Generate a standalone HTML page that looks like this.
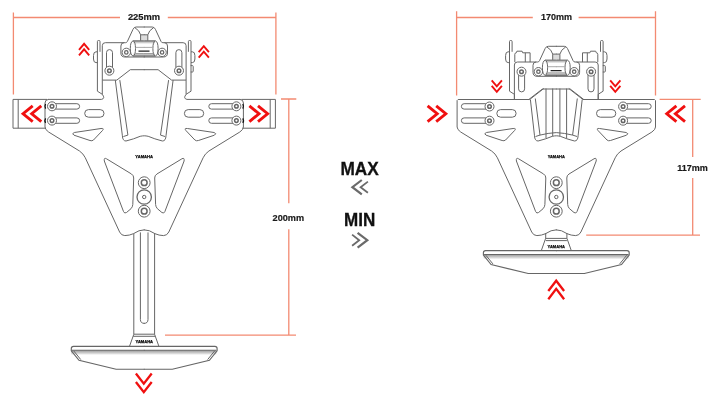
<!DOCTYPE html>
<html><head><meta charset="utf-8">
<style>
html,body{margin:0;padding:0;background:#fff;width:720px;height:405px;overflow:hidden}
svg{position:absolute;left:0;top:0;display:block;will-change:transform}
text{font-family:"Liberation Sans",sans-serif;font-weight:bold}
</style></head><body>
<svg width="720" height="405" viewBox="0 0 720 405">
<defs>
<linearGradient id="band" x1="0" y1="0" x2="0" y2="1">
<stop offset="0" stop-color="#9a9a9a"/><stop offset="1" stop-color="#f2f2f2"/>
</linearGradient>
<linearGradient id="cylT" x1="0" y1="0" x2="0" y2="1"><stop offset="0" stop-color="#999"/><stop offset="1" stop-color="#fff"/></linearGradient>
<linearGradient id="cylB" x1="0" y1="0" x2="0" y2="1"><stop offset="0" stop-color="#fff"/><stop offset="1" stop-color="#999"/></linearGradient>
<!-- shared body half (cx=144.2) -->
<g id="bodyHalf">
 <path d="M45,127 Q45,129.5 48.6,132 L79.5,151 Q83.5,153.8 85.3,157.8 L119.6,232 Q121.3,235.6 124.8,235.6 Q129.5,235.5 133.4,233.7 Q139,229.8 144.6,229.8"/>
 <rect x="84.7" y="109.6" width="19.3" height="7.6" rx="3.8"/>
 <path d="M74.3,132.5 L101,128.5 Q104.5,128 102.5,130.5 L93.5,140 Q92,141.3 90,140.5 L74,135.2 Q71.2,133.6 74.3,132.5Z"/>
 <path d="M106.5,158.8 L131.5,174 Q133.8,175.5 133.7,178 L132.8,204.5 Q132.6,207 131,208.7 L126.5,212.5 Q124.5,214 123.5,211.5 L104.3,161 Q103.8,157.2 106.5,158.8Z"/>
 <rect x="49.3" y="103.7" width="30.3" height="5.4" rx="2.7"/>
 <rect x="49.3" y="117.9" width="30.3" height="5.4" rx="2.7"/>
 <!-- tab + knob -->
 <path d="M97.4,91.2 V41.5 Q97.4,40.5 98.4,40.5 H99 Q100,40.5 100,41.5 V51.8"/>
 <path d="M97.4,91.2 L102.3,94.3"/>
 <path d="M97.4,51.8 H96 Q93.5,51.8 93.5,55.5 V59 Q93.5,62.6 96,62.6 H97.4"/>
</g>
<!-- upper plate half -->
<g id="plateHalf">
 <path d="M102.3,80.1 V45.7 Q102.3,42.7 105.3,42.7 H125.5 Q126.8,42.7 127.4,41.4 L133,29.3 Q134,27 136.2,27 H144.6"/>
 <path d="M124,42.7 Q120.9,42.7 120.9,46 V53 Q120.9,57 125,57 H144.6"/>
 <path d="M116.8,80.1 L130.3,69.7 H144.6"/>
 <rect x="106.5" y="49.6" width="6" height="23" rx="3"/>
 <circle cx="126.3" cy="52.4" r="4.2" fill="#fff"/>
 <circle cx="126.3" cy="52.4" r="1.7" stroke-width="1.3"/>
 <rect x="133.5" y="41" width="11.1" height="3" fill="url(#cylT)" stroke="none"/>
 <rect x="133.5" y="52.8" width="11.1" height="3" fill="url(#cylB)" stroke="none"/>
 <rect x="140.6" y="35" width="4" height="5.6" fill="#dcdcdc" stroke="none"/>
 <path d="M144.2,40.8 H133.2 Q130.3,41.5 130.3,48.5 Q130.3,55.5 133.2,56.1 H144.6"/>
 <path d="M133.2,40.8 Q135.5,42 135.5,48.5 Q135.5,55 133.2,56.1"/>
 <path d="M135.5,47.4 H144.6" stroke="#aaa"/><path d="M135.3,53.6 H144.6" stroke="#999"/>
 <path d="M134.8,27.6 Q139.6,30.5 140.6,34.8 V40.6 M140.6,34.8 H144.6"/>
</g>
<g id="holeS">
 <circle cx="0" cy="0" r="4.5" fill="#fff"/>
 <circle cx="0" cy="0" r="1.8" stroke-width="1.5"/>
</g>
<!-- base half -->
<g id="baseHalf">
 <path d="M144.6,346.3 H73.5 Q71.3,346.3 71.3,348.5 V350.8 L79,360.3 L116.1,369.2 H144.6" stroke-width="1.15"/>
 <path d="M73.8,351 L80.8,359.6"/>
 <path d="M72,350.2 H144.6" stroke-width="1.1"/>
</g>
<!-- left bracket half -->
<g id="leftHalf">
 <use href="#bodyHalf"/>
 <use href="#plateHalf"/>
 <path d="M47,99.4 H13 V128.2 H46 M48.5,99.4 Q45,99.6 45,103 V127"/>
 <path d="M18.2,99.5 V128.2"/>
 <path d="M48,99.4 H101.5 Q105.5,98.5 102.3,94.3 V80.1 H116.8"/>
  <path d="M115.3,80.1 L122.4,135.8 Q122.6,141 126,141 Q134,139 140.2,136.3 Q142.5,135.8 144.2,135.8"/>
 <path d="M119.8,80.1 L127.9,135.1 L123.4,136.5"/>
 <use href="#holeS" x="109.4" y="70.7"/>
 <use href="#holeS" x="52" y="106.3"/>
 <use href="#holeS" x="52" y="120.6"/>
 <path d="M45.6,104 Q44.2,106.3 45.6,108.6 M45.6,118.3 Q44.2,120.6 45.6,122.9" stroke="#111" stroke-width="1.3"/>
 <path d="M133.8,233.6 V334.3 L129.5,346.3"/>
 <path d="M140.4,232.4 V319.5 Q140.4,323.4 144.6,323.4"/>
 <use href="#baseHalf"/>
</g>
<!-- right bracket half (left coords, translated by 412.1) -->
<g id="rightHalf">
 <use href="#bodyHalf"/>
 <use href="#plateHalf" transform="translate(0,19.3)"/>
 <path d="M45,127 V100.5 L46,99.5 H117.6 L131.7,88.5"/>
 <path d="M102.3,94.3 V99.5"/>
 <path d="M102.7,62.1 V54.3 Q102.7,52.8 104.2,52.8 L104.8,51.2 H110 L110.6,52.8 H118 V62.1 M113.2,52.8 V62.1"/>
 <path d="M118.3,99.5 L122.4,135.8 Q122.6,141 126,141 Q134,139 140.2,136.3 Q142.5,135.8 144.2,135.8"/>
 <path d="M123.2,98.5 L127.9,135.1 L123.4,136.5 M127.9,135.1 Q136,133 144.2,132.6"/>
 <path d="M133.9,88.5 V138.3 M140.6,88.5 V136.3"/>
 <use href="#holeS" x="109.4" y="71.7"/>
 <use href="#holeS" x="77.4" y="106.5"/>
 <use href="#holeS" x="77.4" y="120.7"/>
 <path d="M133.6,233 V238.2 L129.2,250.6"/>
 <g transform="translate(0,-95.7)"><use href="#baseHalf"/></g>
</g>
<path id="chevL" d="M32.7,105.9 L23.1,113.75 L32.7,121.6 M41.3,105.9 L31.7,113.75 L41.3,121.6" fill="none" stroke="#f01010" stroke-width="2.9"/>
<path id="chevUpS" d="M79,49.8 L84.1,43.8 L89.2,49.8 M79,55.3 L84.1,49.3 L89.2,55.3" fill="none" stroke="#f01010" stroke-width="1.9"/>
<path id="chevDownS" d="M491.7,80.3 L496.8,86.3 L501.9,80.3 M491.7,85.8 L496.8,91.8 L501.9,85.8" fill="none" stroke="#f01010" stroke-width="1.9"/>
</defs>

<rect x="71.3" y="350.4" width="145" height="4.3" fill="url(#band)"/>
<rect x="483.7" y="254.6" width="145" height="4.3" fill="url(#band)"/>
<g fill="none" stroke="#666" stroke-width="1">
 <!-- LEFT BRACKET -->
 <use href="#leftHalf"/>
 <use href="#leftHalf" transform="translate(288.4,0) scale(-1,1)"/>
 <circle cx="144.2" cy="182.7" r="5.9"/><circle cx="144.2" cy="182.7" r="2.9" stroke-width="1.5"/>
 <circle cx="144.2" cy="197" r="7.2" stroke-width="1.3"/><circle cx="144.2" cy="197" r="1.7"/>
 <circle cx="144.2" cy="211.2" r="5.9"/><circle cx="144.2" cy="211.2" r="2.9" stroke-width="1.5"/>
 <path d="M133.8,334.2 H154.6 M133.2,336.3 H155.2"/>
 <path d="M190.7,65.6 H192.5 Q193.2,65.6 193.2,66.5 V71.2 Q193.2,72 192.5,72 H190.7"/>
 <!-- RIGHT BRACKET -->
 <g transform="translate(412.1,0)">
  <use href="#rightHalf"/>
  <use href="#rightHalf" transform="translate(288.4,0) scale(-1,1)"/>
  <circle cx="144.2" cy="182.7" r="5.9"/><circle cx="144.2" cy="182.7" r="2.9" stroke-width="1.5"/>
  <circle cx="144.2" cy="197" r="7.2" stroke-width="1.3"/><circle cx="144.2" cy="197" r="1.7"/>
  <circle cx="144.2" cy="211.2" r="5.9"/><circle cx="144.2" cy="211.2" r="2.9" stroke-width="1.5"/>
  <path d="M133.6,238.4 H154.8 M133.6,240.6 H154.8"/>
  <path d="M190.7,65.6 H192.5 Q193.2,65.6 193.2,66.5 V71.2 Q193.2,72 192.5,72 H190.7"/>
 </g>
</g>
<path d="M138.5,51.1 H149.5 M550.6,70.6 H561.6" stroke="#222" stroke-width="1.2"/>
<g fill="#111" stroke="#111" stroke-width="0.25" font-size="3.9">
<text x="135.3" y="158" textLength="17.7" lengthAdjust="spacingAndGlyphs">YAMAHA</text>
<text x="135.6" y="343.4" font-size="3.3" textLength="17.4" lengthAdjust="spacingAndGlyphs">YAMAHA</text>
<text x="547.7" y="158" textLength="17.1" lengthAdjust="spacingAndGlyphs">YAMAHA</text>
<text x="547.6" y="247.6" textLength="17.4" lengthAdjust="spacingAndGlyphs">YAMAHA</text>
</g>
<use href="#chevL"/>
<use href="#chevL" transform="translate(290.7,0) scale(-1,1)"/>
<use href="#chevUpS"/>
<use href="#chevUpS" transform="translate(119.7,2.3)"/>
<path d="M135.9,373.5 L143.8,383.6 L151.7,373.5 M135.9,382 L143.8,392.1 L151.7,382" fill="none" stroke="#f01010" stroke-width="2.3"/>
<!-- right bracket chevrons -->
<use href="#chevL" transform="translate(468.9,0) scale(-1,1)"/>
<use href="#chevL" transform="translate(643.7,0)"/>
<use href="#chevDownS"/>
<use href="#chevDownS" transform="translate(118.5,0)"/>
<path d="M548.3,291 L556.2,280.7 L564.1,291 M548.3,299.2 L556.2,288.9 L564.1,299.2" fill="none" stroke="#f01010" stroke-width="2.3"/>

<!-- dimension lines -->
<g stroke="#f38a72" stroke-width="1.3" fill="none">
 <path d="M13.4,12.5 V94.6 M13.4,17.5 H120 M167.8,17.5 H275.9 M275.9,12.5 V94.6"/>
 <path d="M281,99 H296.3 M288.8,99 V203.3 M288.8,229.3 V335.2 M165,335.2 H296"/>
 <path d="M456.6,11.2 V95.5 M456.6,17.5 H532.8 M578.6,17.5 H655.5 M655.5,11.2 V95.5"/>
 <path d="M659.6,99.4 H700.7 M692.7,99.4 V157 M692.7,178 V235.2 M586.2,235.2 H700"/>
</g>
<text x="127.9" y="20.3" font-size="9.8" fill="#1a1a1a" stroke="#1a1a1a" stroke-width="0.2" textLength="32.2" lengthAdjust="spacingAndGlyphs">225mm</text>
<text x="272.6" y="221.1" font-size="9.8" fill="#1a1a1a" stroke="#1a1a1a" stroke-width="0.2" textLength="31.5" lengthAdjust="spacingAndGlyphs">200mm</text>
<text x="540.9" y="20.3" font-size="9.8" fill="#1a1a1a" stroke="#1a1a1a" stroke-width="0.2" textLength="31.1" lengthAdjust="spacingAndGlyphs">170mm</text>
<text x="677.2" y="170.7" font-size="9.8" fill="#1a1a1a" stroke="#1a1a1a" stroke-width="0.2" textLength="30.6" lengthAdjust="spacingAndGlyphs">117mm</text>
<text x="340.5" y="174.7" font-size="17.6" fill="#111" stroke="#111" stroke-width="0.3" textLength="38.3" lengthAdjust="spacingAndGlyphs">MAX</text>
<text x="344" y="225.9" font-size="17.6" fill="#111" stroke="#111" stroke-width="0.3" textLength="31.2" lengthAdjust="spacingAndGlyphs">MIN</text>
<g fill="none" stroke="#6a6a6a">
 <path d="M361.8,180 L352.4,187.2 L361.8,194.4" stroke-width="2.2"/>
 <path d="M367.9,181.6 L360.6,187.2 L367.9,192.8" stroke-width="1.8"/>
 <path d="M352.1,234.6 L359.2,240.2 L352.1,245.8" stroke-width="1.8"/>
 <path d="M357.6,232.8 L367.3,240.2 L357.6,247.6" stroke-width="2.2"/>
</g>
</svg>
</body></html>
